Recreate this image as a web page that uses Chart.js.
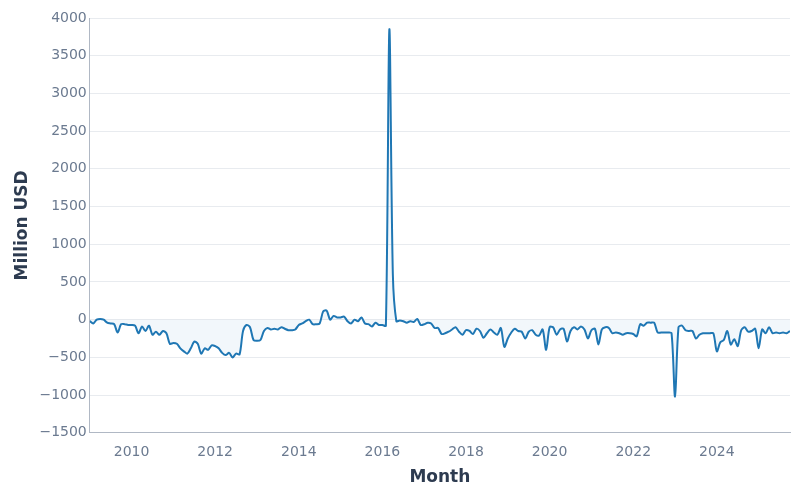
<!DOCTYPE html>
<html>
<head>
<meta charset="utf-8">
<script src="https://cdn.jsdelivr.net/npm/chart.js@4/dist/chart.umd.min.js"></script>
<style>
  html, body { margin: 0; padding: 0; background: #fff; }
  #wrap { width: 800px; height: 500px; }
</style>
</head>
<body>
<div id="wrap"><canvas id="chart"></canvas></div>
<script>
// monthly values per year, Jan..Dec (2025 stops in Oct)
var startYear = 2009;
var values = [
  [-20, -50, 0, 10, 0, -40, -50, -60, -170, -60, -60, -70],
  [-70, -80, -180, -90, -150, -80, -200, -160, -200, -150, -180, -320],
  [-310, -320, -380, -420, -450, -380, -290, -320, -450, -380, -400, -340],
  [-350, -380, -440, -470, -440, -500, -450, -460, -150, -70, -100, -270],
  [-280, -270, -150, -110, -130, -120, -130, -100, -120, -140, -140, -130],
  [-70, -50, -20, 0, -60, -60, -50, 110, 120, 0, 50, 30],
  [30, 40, -20, -50, 0, -20, 30, -50, -60, -90, -40, -70],
  [-70, -80, 3850, 600, -20, -10, -20, -40, -20, -30, 10, -70],
  [-60, -40, -50, -110, -110, -190, -180, -160, -130, -100, -160, -200],
  [-140, -150, -190, -120, -150, -240, -180, -130, -170, -200, -110, -360],
  [-250, -170, -120, -150, -160, -250, -160, -140, -200, -210, -130, -400],
  [-100, -100, -200, -130, -120, -290, -150, -100, -130, -90, -130, -250],
  [-140, -120, -330, -130, -100, -110, -180, -170, -180, -200, -180, -180],
  [-190, -220, -60, -80, -40, -40, -40, -170, -170, -170, -170, -180],
  [-1020, -100, -80, -140, -150, -150, -250, -200, -180, -180, -180, -180],
  [-420, -300, -270, -150, -330, -260, -350, -140, -100, -160, -150, -120],
  [-380, -130, -180, -100, -180, -170, -180, -170, -180, -150]
];
var xTicks = [2010, 2012, 2014, 2016, 2018, 2020, 2022, 2024];
var yTicks = [-1500, -1000, -500, 0, 500, 1000, 1500, 2000, 2500, 3000, 3500, 4000];

var points = [];
values.forEach(function(row, i) {
  row.forEach(function(v, m) {
    points.push({ x: startYear + i + m / 12, y: v });
  });
});

var tickColor = '#6b7a90';
var gridColor = '#e8ebef';

new Chart(document.getElementById('chart').getContext('2d'), {
  type: 'line',
  data: {
    datasets: [{
      data: points,
      borderColor: '#1f77b4',
      backgroundColor: 'rgba(31,119,180,0.06)',
      borderWidth: 2,
      pointRadius: 0,
      tension: 0.3,
      fill: 'origin'
    }]
  },
  options: {
    animation: false,
    responsive: true,
    maintainAspectRatio: false,
    layout: { padding: { top: 18, right: 10, bottom: 8, left: 8 } },
    plugins: { legend: { display: false }, tooltip: { enabled: false } },
    scales: {
      x: {
        type: 'linear',
        min: 2009,
        max: 2025.75,
        afterBuildTicks: function(axis) { axis.ticks = xTicks.map(function(v) { return { value: v }; }); },
        ticks: { color: tickColor, font: { family: 'DejaVu Sans', size: 14 }, maxRotation: 0, callback: function(v) { return String(v); } },
        grid: { display: false },
        border: { color: '#b0b8c4' },
        title: { display: true, text: 'Month', color: '#2d3b50', font: { family: 'DejaVu Sans', size: 17, weight: 'bold' } }
      },
      y: {
        min: -1500,
        max: 4000,
        afterBuildTicks: function(axis) { axis.ticks = yTicks.map(function(v) { return { value: v }; }); },
        ticks: { color: tickColor, font: { family: 'DejaVu Sans', size: 14 }, callback: function(v) { return v < 0 ? '\u2212' + Math.abs(v) : String(v); } },
        grid: { color: gridColor, drawTicks: false },
        border: { color: '#b0b8c4' },
        title: { display: true, text: 'Million USD', color: '#2d3b50', font: { family: 'DejaVu Sans', size: 17, weight: 'bold' } }
      }
    }
  }
});
</script>
</body>
</html>
